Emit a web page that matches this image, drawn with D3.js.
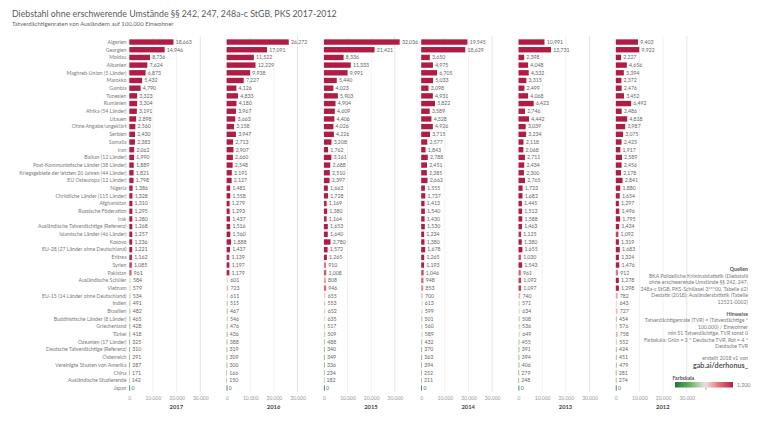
<!DOCTYPE html>
<html><head><meta charset="utf-8">
<script src="https://cdn.jsdelivr.net/npm/d3@7"></script>
<style>body{margin:0;background:#fff}svg{display:block;font-family:Lato,"Open Sans",sans-serif}</style>
</head><body>
<svg id="c" width="768" height="432"></svg>
<script>
const categories = ["Algerien","Georgien","Moldau","Albanien","Maghreb-Union (5 Länder)","Marokko","Gambia","Tunesien","Rumänien","Afrika (54 Länder)","Litauen","Ohne Angabe/ungeklärt","Serbien","Somalia","Iran","Balkan (12 Länder)","Post-Kommunistische Länder (38 Länder)","Kriegsgebiete der letzten 20 Jahren (44 Länder)","EU Osteuropa (12 Länder)","Nigeria","Christliche Länder (115 Länder)","Afghanistan","Russische Föderation","Irak","Ausländische Tatverdächtige (Referenz)","Islamische Länder (46 Länder)","Kosovo","EU-28 (27 Länder ohne Deutschland)","Eritrea","Syrien","Pakistan","Ausländische Schüler","Vietnam","EU-15 (14 Länder ohne Deutschland)","Indien","Brasilien","Buddhistische Länder (8 Länder)","Griechenland","Türkei","Ozeanien (17 Länder)","Deutsche Tatverdächtige (Referenz)","Österreich","Vereinigte Staaten von Amerika","China","Ausländische Studierende","Japan"];
const years = ["2017","2016","2015","2014","2013","2012"];
const v2017 = [18663,14946,8736,7624,6873,5432,4790,3323,3304,3191,2898,2560,2430,2383,2062,1990,1889,1821,1798,1386,1328,1310,1295,1280,1268,1257,1236,1221,1162,1085,961,584,579,534,491,482,465,428,418,325,310,291,287,171,142,0];
const v2016 = [26272,17091,11522,12229,9938,7227,4126,4833,4180,3967,3663,3158,3947,2713,2907,2660,2548,2191,2127,1481,1558,1279,1293,1437,1516,1560,1888,1437,1139,1197,1179,601,723,611,515,467,546,476,436,388,319,309,300,166,150,0];
const v2015 = [32036,21421,8336,11333,9991,5440,4023,5903,4904,4609,4406,4026,4226,3208,1762,3161,2688,2510,2397,1663,1728,1169,1380,1164,1653,1640,2780,1572,1265,910,1008,808,946,655,553,652,635,517,509,488,340,349,336,234,182,0];
const v2014 = [19545,18629,3650,4975,6705,5033,3098,4931,5822,3589,4328,4926,3715,2577,1843,2788,2451,2385,2662,1555,1737,1413,1540,1430,1530,1234,1380,1678,1265,1193,1046,948,853,700,613,599,501,560,589,432,370,363,394,252,211,0];
const v2013 = [10991,13731,2398,4048,4332,3315,2499,4068,6423,2746,4442,3039,3234,2118,2068,2711,2434,2300,2765,1723,1682,1445,1513,1588,1463,1125,1380,1655,1030,1543,961,1092,1097,740,571,634,508,536,649,455,391,394,406,279,248,0];
const v2012 = [9403,9922,2227,4656,3394,2372,2476,3452,6492,2486,4818,3987,3075,2425,1917,2589,2456,2178,2841,1880,1654,1297,1496,1795,1434,1092,1319,1683,1324,1476,912,1278,1298,782,643,727,454,576,758,552,424,451,479,281,274,0];
const series = [v2017,v2016,v2015,v2014,v2013,v2012];
const ticks = [0,10000,20000,30000];
const tickLabels = ["0","10.000","20.000","30.000"];
const colorStops = [0,310,620,900,1200];
const colorRange = ["#1b7a37","#66b062","#e4e4e4","#e7737c","#b01d44"];

const svg = d3.select("#c");
const grey = "#7a7a7a";
svg.append("text").attr("x",12).attr("y",17).attr("font-size",8.8).attr("fill","#5a5a5a").text("Diebstahl ohne erschwerende Umstände §§ 242, 247, 248a-c StGB, PKS 2017-2012");
svg.append("text").attr("x",12).attr("y",26).attr("font-size",6).attr("fill","#666").text("Tatverdächtigenraten von Ausländern auf 100.000 Einwohner");

const y = d3.scaleBand().domain(categories).range([38.2, 38.2+46*7.69]).paddingInner(0.3).paddingOuter(0.15);
const x = d3.scaleLinear().domain([0,41000]).range([0,97]);
const color = d3.scaleLinear().domain(colorStops).range(colorRange).interpolate(d3.interpolateLab).clamp(true);
const fmt = d3.format(",");
const panelX = d3.scaleLinear().domain([0,1]).range([129.3, 226.6]);

// row labels
svg.append("g").selectAll("text").data(categories).join("text")
  .attr("x",126.5).attr("y",d=>y(d)+y.bandwidth()/2).attr("dy","0.35em")
  .attr("text-anchor","end").attr("font-size",5.2).attr("fill",grey).text(d=>d);

years.forEach((yr,pi)=>{
  const x0 = panelX(pi);
  const g = svg.append("g").attr("transform",`translate(${x0},0)`);
  g.selectAll("line.grid").data(ticks.slice(1)).join("line")
    .attr("x1",d=>x(d)).attr("x2",d=>x(d)).attr("y1",36).attr("y2",392)
    .attr("stroke",d=>d===30000?"#e6e6e6":"#f2f2f2").attr("stroke-width",1);
  const vals = series[pi];
  g.selectAll("rect").data(vals).join("rect")
    .attr("x",0).attr("y",(d,i)=>y(categories[i])).attr("height",y.bandwidth())
    .attr("width",d=>Math.max(x(d),d===0?0.8:0)).attr("fill",d=>d===0?"#1b7a37":color(d));
  g.selectAll("text.v").data(vals).join("text").attr("class","v")
    .attr("x",d=>x(d)+2.2).attr("y",(d,i)=>y(categories[i])+y.bandwidth()/2).attr("dy","0.35em")
    .attr("font-size",5.2).attr("fill","#666").text(d=>fmt(d));
  const ax = g.append("g").attr("transform","translate(0,395)")
    .call(d3.axisBottom(x).tickValues(ticks).tickFormat((d,i)=>tickLabels[i]).tickSize(0).tickPadding(1));
  ax.select(".domain").remove();
  ax.selectAll("text").attr("font-size",5).attr("fill","#999").attr("font-family","Lato");
  g.append("text").attr("x",47).attr("y",409).attr("text-anchor","middle").attr("font-size",5.8)
    .attr("font-weight","bold").attr("fill","#444").text(yr);
});

// notes
const notes = [
  ["Quellen",269.5,true],
  ["BKA Polizeiliche Kriminalstatistik (Diebstahl",276,false],
  ["ohne erschwerende Umstände §§ 242, 247,",282.5,false],
  ["248a-c StGB, PKS-Schlüssel 3***00, Tabelle 62)",289,false],
  ["Destatis (2018): Ausländerstatistik (Tabelle",295.5,false],
  ["12521-0002)",302,false],
  ["Hinweise",314,true],
  ["Tatverdächtigenrate (TVR) = (Tatverdächtige *",320.5,false],
  ["100.000) / Einwohner",327,false],
  ["min 51 Tatverdächtige, TVR sonst 0",333.5,false],
  ["Farbskala: Grün = 2 * Deutsche TVR, Rot = 4 *",340,false],
  ["Deutsche TVR",346.5,false],
  ["erstellt 2018 v1 von",358,false]
];
svg.append("g").selectAll("text").data(notes).join("text")
  .attr("x",748).attr("y",d=>d[1]).attr("dy","0.35em").attr("text-anchor","end")
  .attr("font-size",5.2).attr("font-weight",d=>d[2]?"bold":"normal").attr("fill",d=>d[2]?"#555":grey).text(d=>d[0]);
svg.append("text").attr("x",748).attr("y",365.5).attr("dy","0.35em").attr("text-anchor","end")
  .attr("font-size",7.2).attr("font-weight","bold").attr("fill","#555").text("gab.ai/derhonus_");

// legend
svg.append("text").attr("x",672.5).attr("y",378).attr("dy","0.35em").attr("font-size",5.2).attr("font-weight","bold").attr("fill","#555").text("Farbskala");
const defs = svg.append("defs");
const lg = defs.append("linearGradient").attr("id","lg");
d3.range(0,1.0001,0.05).forEach(t=>lg.append("stop").attr("offset",t).attr("stop-color",color(t*1200)));
svg.append("rect").attr("x",675).attr("y",382).attr("width",58).attr("height",5.5).attr("fill","url(#lg)");
svg.append("line").attr("x1",706).attr("x2",706).attr("y1",387.5).attr("y2",389.5).attr("stroke","#555").attr("stroke-width",0.6);
svg.append("text").attr("x",737).attr("y",385).attr("dy","0.35em").attr("font-size",5.2).attr("fill",grey).text("1,200");
</script>
</body></html>
